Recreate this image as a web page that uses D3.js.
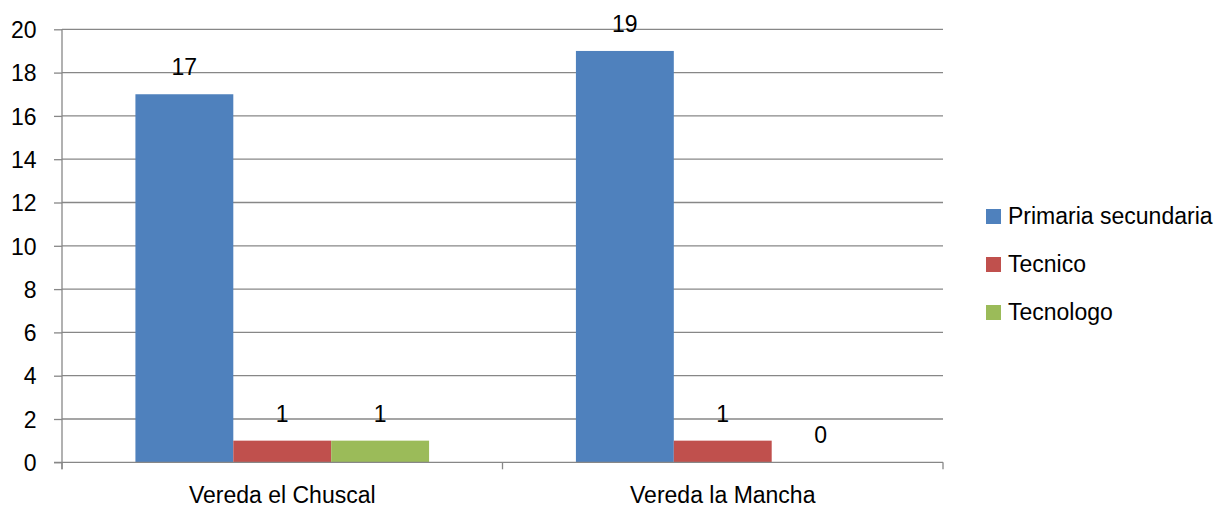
<!DOCTYPE html>
<html>
<head>
<meta charset="utf-8">
<script src="https://cdn.jsdelivr.net/npm/d3@7"></script>
<style>
  html, body { margin: 0; padding: 0; background: #fff; }
  svg { display: block; }
  text { font-family: "Liberation Sans", Arial, sans-serif; fill: #000; }
</style>
</head>
<body>
<svg id="chart" width="1223" height="508"></svg>
<script>
// Categories, series names and counts
const categories = ["Vereda el Chuscal", "Vereda la Mancha"];
const seriesNames = ["Primaria secundaria", "Tecnico", "Tecnologo"];
const primariaSecundaria = [17, 19];
const tecnico = [1, 1];
const tecnologo = [1, 0];
const yTicks = [0, 2, 4, 6, 8, 10, 12, 14, 16, 18, 20];
const colors = ["#4F81BD", "#C0504D", "#9BBB59"];

const seriesValues = [primariaSecundaria, tecnico, tecnologo];

const svg = d3.select("#chart");
const plot = { left: 62, right: 943, top: 29.3, bottom: 462.3 };
const fontSize = 23;
const gridColor = "#878787";

const y = d3.scaleLinear().domain([0, 20]).range([plot.bottom, plot.top]);
const x = d3.scaleBand().domain(categories).range([plot.left, plot.right]).padding(0);
const xs = d3.scaleBand().domain(seriesNames)
  .range([0, x.bandwidth()]).paddingInner(0).paddingOuter(0.75);
const color = d3.scaleOrdinal().domain(seriesNames).range(colors);

// Horizontal gridlines
svg.append("g")
  .selectAll("line")
  .data(yTicks.filter(t => t !== 0))
  .join("line")
  .attr("x1", plot.left).attr("x2", plot.right)
  .attr("y1", d => y(d)).attr("y2", d => y(d))
  .attr("stroke", gridColor).attr("stroke-width", 1.3);

// Bars
const rows = [];
categories.forEach((c, i) => {
  seriesNames.forEach((s, j) => rows.push({ cat: c, series: s, value: seriesValues[j][i] }));
});

svg.append("g")
  .selectAll("rect")
  .data(rows)
  .join("rect")
  .attr("x", d => x(d.cat) + xs(d.series))
  .attr("y", d => y(d.value))
  .attr("width", xs.bandwidth())
  .attr("height", d => y(0) - y(d.value))
  .attr("fill", d => color(d.series));

// Value labels above bars
svg.append("g")
  .selectAll("text")
  .data(rows)
  .join("text")
  .attr("x", d => x(d.cat) + xs(d.series) + xs.bandwidth() / 2)
  .attr("y", d => y(d.value) - 19)
  .attr("text-anchor", "middle")
  .style("font-size", fontSize + "px")
  .text(d => d.value);

// Y axis
const yAxis = svg.append("g")
  .attr("transform", `translate(${plot.left},0)`)
  .call(d3.axisLeft(y).tickValues(yTicks).tickSize(8).tickPadding(17.5).tickFormat(d3.format("d")));
yAxis.select(".domain").attr("stroke", gridColor).attr("stroke-width", 1.3)
  .attr("d", `M0,${plot.top}V${plot.bottom + 7}`);
yAxis.selectAll(".tick line").attr("stroke", gridColor).attr("stroke-width", 1.3);
yAxis.selectAll(".tick text")
  .attr("dy", "0.36em")
  .style("font-size", fontSize + "px")
  .style("font-family", "'Liberation Sans', Arial, sans-serif")
  .attr("fill", "#000");

// X axis: baseline, boundary ticks and category labels
const xAxis = svg.append("g");
xAxis.append("line")
  .attr("x1", plot.left - 8).attr("x2", plot.right)
  .attr("y1", y(0)).attr("y2", y(0))
  .attr("stroke", gridColor).attr("stroke-width", 1.3);
const bounds = categories.map(c => x(c)).concat([x(categories[categories.length - 1]) + x.bandwidth()]);
xAxis.selectAll("line.tick")
  .data(bounds)
  .join("line")
  .attr("class", "tick")
  .attr("x1", d => d).attr("x2", d => d)
  .attr("y1", y(0)).attr("y2", y(0) + 7)
  .attr("stroke", gridColor).attr("stroke-width", 1.3);
xAxis.selectAll("text")
  .data(categories)
  .join("text")
  .attr("x", d => x(d) + x.bandwidth() / 2)
  .attr("y", 503)
  .attr("text-anchor", "middle")
  .style("font-size", fontSize + "px")
  .text(d => d);

// Legend
const legend = svg.append("g").attr("transform", "translate(986,209)");
const item = legend.selectAll("g")
  .data(seriesNames)
  .join("g")
  .attr("transform", (d, i) => `translate(0,${i * 48})`);
item.append("rect")
  .attr("width", 15).attr("height", 15)
  .attr("fill", d => color(d));
item.append("text")
  .attr("x", 22).attr("y", 15.3)
  .style("font-size", fontSize + "px")
  .text(d => d);
</script>
</body>
</html>
